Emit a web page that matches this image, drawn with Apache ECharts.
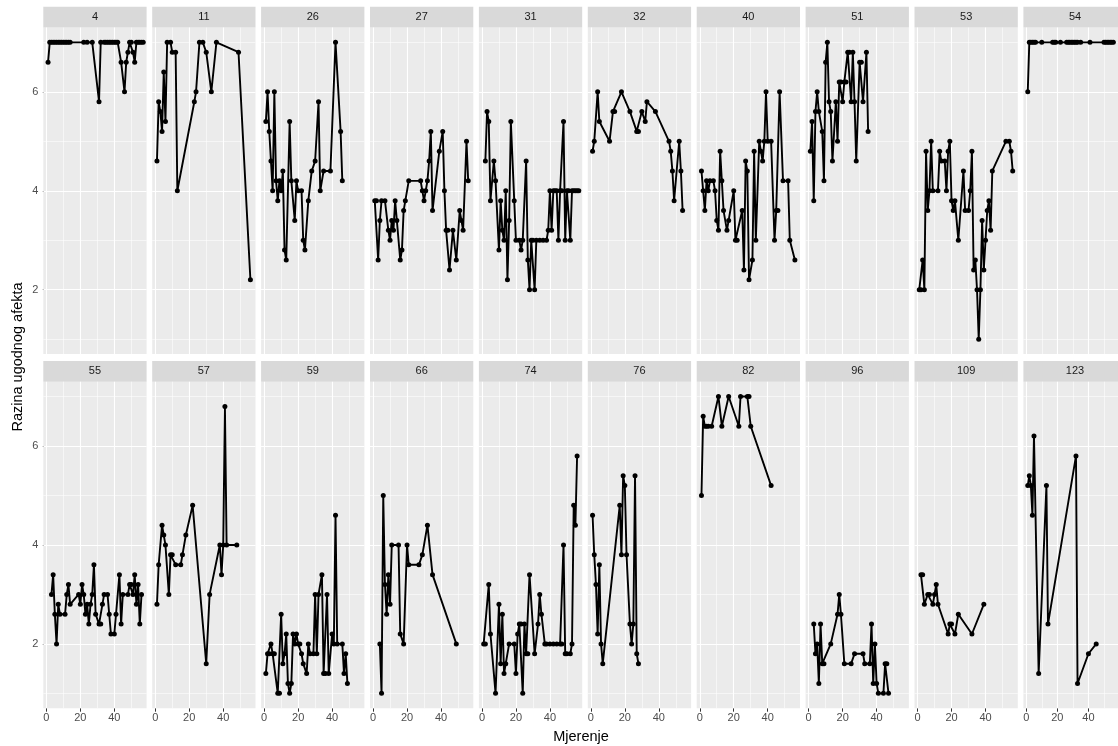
<!DOCTYPE html>
<html><head><meta charset="utf-8">
<script src="https://cdn.jsdelivr.net/npm/echarts@6/dist/echarts.min.js"></script>
<style>html,body{margin:0;padding:0;background:#fff}#c{width:1118px;height:746px}</style>
</head><body><div id="c"></div>
<script>
// ---------- data ----------
const panelIds = ['4','11','26','27','31','32','40','51','53','54','55','57','59','66','74','76','82','96','109','123'];
const xTickValues = [0, 20, 40];
const yTickValues = [2, 4, 6];
const xMinorValues = [10, 30, 50];
const yMinorValues = [1, 3, 5, 7];
const xTitle = 'Mjerenje';
const yTitle = 'Razina ugodnog afekta';

const p4 = [[1,6.6],[2,7],[3,7],[4,7],[5,7],[6,7],[7,7],[8,7],[9,7],[10,7],[11,7],[12,7],[13,7],[14,7],[22,7],[24,7],[27,7],[31,5.8],[32,7],[34,7],[35,7],[36,7],[37,7],[38,7],[39,7],[40,7],[41,7],[42,7],[44,6.6],[46,6.0],[47,6.6],[48,6.8],[49,7],[50,7],[51,6.8],[52,6.6],[53,7],[54,7],[55,7],[56,7],[57,7]];
const p11 = [[1,4.6],[2,5.8],[3,5.6],[4,5.2],[5,6.4],[6,5.4],[7,7],[9,7],[10,6.8],[12,6.8],[13,4.0],[23,5.8],[24,6.0],[26,7],[28,7],[30,6.8],[33,6.0],[36,7],[49,6.8],[56,2.2]];
const p26 = [[1,5.4],[2,6.0],[3,5.2],[4,4.6],[5,4.0],[6,6.0],[7,4.2],[8,3.8],[9,4.2],[10,4.0],[11,4.4],[12,2.8],[13,2.6],[15,5.4],[16,4.2],[18,3.4],[19,4.2],[20,4.0],[22,4.0],[23,3.0],[24,2.8],[26,3.8],[28,4.4],[30,4.6],[32,5.8],[33,4.0],[35,4.4],[39,4.4],[42,7.0],[45,5.2],[46,4.2]];
const p27 = [[1,3.8],[2,3.8],[3,2.6],[4,3.4],[5,3.8],[7,3.8],[9,3.2],[10,3.0],[11,3.4],[12,3.2],[13,3.8],[14,3.4],[16,2.6],[17,2.8],[18,3.6],[19,3.8],[21,4.2],[28,4.2],[29,4.0],[30,3.8],[31,4.0],[32,4.2],[33,4.6],[34,5.2],[35,3.6],[39,4.8],[41,5.2],[42,4.0],[43,3.2],[44,3.2],[45,2.4],[47,3.2],[49,2.6],[51,3.6],[52,3.4],[53,3.2],[55,5.0],[56,4.2]];
const p31 = [[2,4.6],[3,5.6],[4,5.4],[5,3.8],[7,4.6],[8,4.2],[10,2.8],[11,3.8],[12,3.2],[13,3.0],[14,4.0],[15,2.2],[16,3.4],[17,5.4],[19,3.8],[20,3.0],[22,3.0],[23,2.8],[24,3.0],[26,4.6],[27,2.6],[28,2.0],[29,3.0],[30,3.0],[31,2.0],[32,3.0],[34,3.0],[36,3.0],[38,3.0],[39,3.2],[40,4.0],[41,3.2],[42,4.0],[43,4.0],[44,4.0],[45,3.0],[46,4.0],[47,4.0],[48,5.4],[49,3.0],[50,4.0],[51,4.0],[52,3.0],[53,4.0],[54,4.0],[55,4.0],[56,4.0],[57,4.0]];
const p32 = [[1,4.8],[2,5.0],[4,6.0],[5,5.4],[11,5.0],[13,5.6],[14,5.6],[18,6.0],[23,5.6],[27,5.2],[28,5.2],[30,5.6],[32,5.4],[33,5.8],[38,5.6],[46,5.0],[47,4.8],[48,4.4],[49,3.8],[52,5.0],[53,4.4],[54,3.6]];
const p40 = [[1,4.4],[2,4.0],[3,3.6],[4,4.2],[5,4.0],[6,4.2],[8,4.2],[9,4.0],[10,3.4],[11,3.2],[12,4.8],[13,4.2],[14,3.6],[16,3.2],[17,3.4],[20,4.0],[21,3.0],[22,3.0],[25,3.6],[26,2.4],[27,4.6],[28,4.4],[29,2.2],[31,2.6],[32,4.8],[33,3.0],[35,5.0],[36,4.8],[37,4.6],[38,5.0],[39,6.0],[40,5.0],[42,5.0],[44,3.0],[45,3.6],[46,3.6],[47,6.0],[49,4.2],[52,4.2],[53,3.0],[56,2.6]];
const p51 = [[1,4.8],[2,5.4],[3,3.8],[4,5.6],[5,6.0],[6,5.6],[8,5.2],[9,4.2],[10,6.6],[11,7.0],[12,5.8],[13,5.6],[14,4.6],[16,5.8],[17,5.0],[18,6.2],[19,6.2],[20,5.8],[21,6.2],[22,6.2],[23,6.8],[24,6.8],[25,5.8],[26,6.8],[27,5.8],[28,4.6],[30,6.6],[31,6.6],[32,5.8],[34,6.8],[35,5.2]];
const p53 = [[1,2.0],[2,2.0],[3,2.6],[4,2.0],[5,4.8],[6,3.6],[7,4.0],[8,5.0],[9,4.0],[12,4.0],[13,4.8],[14,4.6],[16,4.6],[17,4.0],[18,4.8],[19,5.0],[20,3.8],[21,3.6],[22,3.8],[24,3.0],[27,4.4],[28,3.6],[30,3.6],[31,4.0],[32,4.8],[33,2.4],[34,2.6],[35,2.0],[36,1.0],[37,2.0],[38,3.4],[39,2.4],[40,3.0],[41,3.6],[42,3.8],[43,3.2],[44,4.4],[52,5.0],[54,5.0],[55,4.8],[56,4.4]];
const p54 = [[1,6.0],[2,7],[3,7],[4,7],[5,7],[6,7],[10,7],[17,7],[18,7],[19,7],[22,7],[26,7],[27,7],[28,7],[29,7],[30,7],[31,7],[32,7],[33,7],[35,7],[41,7],[50,7],[51,7],[52,7],[53,7],[54,7],[55,7],[56,7]];
const p55 = [[3,3.0],[4,3.4],[5,2.6],[6,2.0],[7,2.8],[8,2.6],[11,2.6],[12,3.0],[13,3.2],[14,2.8],[19,3.0],[20,2.8],[21,3.2],[22,3.0],[23,2.6],[24,2.8],[25,2.4],[26,2.8],[27,3.0],[28,3.6],[29,2.6],[31,2.4],[32,2.4],[33,2.8],[34,3.0],[36,3.0],[37,2.6],[38,2.2],[40,2.2],[41,2.6],[43,3.4],[44,2.4],[45,3.0],[48,3.0],[49,3.2],[50,3.2],[51,3.0],[52,3.4],[53,2.8],[54,3.2],[55,2.4],[56,3.0]];
const p57 = [[1,2.8],[2,3.6],[4,4.4],[5,4.2],[6,4.0],[8,3.0],[9,3.8],[10,3.8],[12,3.6],[15,3.6],[16,3.8],[18,4.2],[22,4.8],[30,1.6],[32,3.0],[38,4.0],[39,3.4],[40,4.0],[41,6.8],[42,4.0],[48,4.0]];
const p59 = [[1,1.4],[2,1.8],[3,1.8],[4,2.0],[5,1.8],[6,1.8],[8,1.0],[9,1.0],[10,2.6],[11,1.6],[12,1.8],[13,2.2],[14,1.2],[15,1.0],[16,1.2],[17,2.2],[18,2.0],[19,2.2],[20,2.0],[21,2.0],[22,1.8],[23,1.6],[25,1.4],[26,2.0],[27,1.8],[29,1.8],[30,3.0],[31,1.8],[32,3.0],[34,3.4],[35,1.4],[36,1.4],[37,3.0],[38,1.4],[40,2.2],[41,2.0],[42,4.6],[43,2.0],[46,2.0],[47,1.4],[48,1.8],[49,1.2]];
const p66 = [[4,2.0],[5,1.0],[6,5.0],[7,3.2],[8,2.6],[9,3.4],[10,2.8],[11,4.0],[15,4.0],[16,2.2],[18,2.0],[20,4.0],[21,3.6],[27,3.6],[29,3.8],[32,4.4],[35,3.4],[49,2.0]];
const p74 = [[1,2.0],[2,2.0],[4,3.2],[5,2.2],[8,1.0],[10,2.8],[11,1.6],[12,2.6],[13,1.4],[14,1.6],[16,2.0],[19,2.0],[20,1.4],[21,2.2],[22,2.4],[23,2.4],[24,1.0],[25,2.4],[26,1.8],[27,1.8],[28,3.4],[31,1.8],[33,2.4],[34,3.0],[35,2.6],[37,2.0],[38,2.0],[40,2.0],[42,2.0],[44,2.0],[46,2.0],[47,2.0],[48,4.0],[49,1.8],[50,1.8],[52,1.8],[53,2.0],[54,4.8],[55,4.4],[56,5.8]];
const p76 = [[1,4.6],[2,3.8],[3,3.2],[4,2.2],[5,3.6],[6,2.0],[7,1.6],[17,4.8],[18,3.8],[19,5.4],[20,5.2],[21,3.8],[23,2.4],[24,2.0],[25,2.4],[26,5.4],[27,1.8],[28,1.6]];
const p82 = [[1,5.0],[2,6.6],[3,6.4],[4,6.4],[5,6.4],[7,6.4],[11,7.0],[13,6.4],[17,7.0],[23,6.4],[24,7.0],[28,7.0],[29,7.0],[30,6.4],[42,5.2]];
const p96 = [[3,2.4],[4,1.8],[5,2.0],[6,1.2],[7,2.4],[8,1.6],[9,1.6],[13,2.0],[17,2.6],[18,3.0],[19,2.6],[21,1.6],[25,1.6],[27,1.8],[32,1.8],[33,1.6],[36,1.6],[37,2.4],[38,1.2],[39,2.0],[40,1.2],[41,1.0],[44,1.0],[45,1.6],[46,1.6],[47,1.0]];
const p109 = [[2,3.4],[3,3.4],[4,2.8],[6,3.0],[7,3.0],[9,2.8],[10,3.0],[11,3.2],[12,2.8],[18,2.2],[19,2.4],[20,2.4],[22,2.2],[24,2.6],[32,2.2],[39,2.8]];
const p123 = [[1,5.2],[2,5.4],[3,5.2],[4,4.6],[5,6.2],[8,1.4],[13,5.2],[14,2.4],[32,5.8],[33,1.2],[40,1.8],[45,2.0]];

const panelData = [p4,p11,p26,p27,p31,p32,p40,p51,p53,p54,p55,p57,p59,p66,p74,p76,p82,p96,p109,p123];

// ---------- layout / style ----------
const FONT = '"Liberation Sans", Arial, Helvetica, sans-serif';
const L0 = 43.3, STEP = 108.9, PW = 103.3, PH = 326.5, TOPS = [27.5, 381.7], STRIP = 20.8;

const grids = [], xAxes = [], yAxes = [], series = [], graphics = [];
panelIds.forEach((id, i) => {
  const row = Math.floor(i / 10), col = i % 10;
  const left = L0 + col * STEP, top = TOPS[row];
  grids.push({left, top, width: PW, height: PH, show: true, backgroundColor: '#EBEBEB', borderWidth: 0, containLabel: false, z: 0});
  xAxes.push({
    type: 'value', gridIndex: i, min: -1.8, max: 59,
    axisLine: {show: false}, splitLine: {show: false},
    axisTick: {show: row === 1, customValues: xTickValues, length: 3.5, lineStyle: {color: '#333333', width: 1}},
    axisLabel: {show: row === 1, customValues: xTickValues, margin: 4, fontSize: 11, color: '#4D4D4D', fontFamily: FONT}
  });
  yAxes.push({
    type: 'value', gridIndex: i, min: 0.7, max: 7.3,
    axisLine: {show: false}, splitLine: {show: false},
    axisTick: {show: col === 0, customValues: yTickValues, length: 3.5, lineStyle: {color: '#333333', width: 1}},
    axisLabel: {show: col === 0, customValues: yTickValues, margin: 5, fontSize: 11, color: '#4D4D4D', fontFamily: FONT}
  });
  const ml = [];
  yMinorValues.forEach(v => ml.push({yAxis: v, lineStyle: {width: 0.55}}));
  xMinorValues.forEach(v => ml.push({xAxis: v, lineStyle: {width: 0.55}}));
  yTickValues.forEach(v => ml.push({yAxis: v, lineStyle: {width: 1.1}}));
  xTickValues.forEach(v => ml.push({xAxis: v, lineStyle: {width: 1.1}}));
  series.push({
    type: 'line', xAxisIndex: i, yAxisIndex: i, z: 1, silent: true,
    data: [[0, 0.7]], showSymbol: false, lineStyle: {width: 0, opacity: 0},
    markLine: {silent: true, z: 1, symbol: 'none', animation: false, label: {show: false},
      lineStyle: {color: '#FFFFFF', type: 'solid'}, emphasis: {disabled: true}, data: ml}
  });
  series.push({
    type: 'line', xAxisIndex: i, yAxisIndex: i, z: 6, data: panelData[i],
    symbol: 'circle', symbolSize: 5, showSymbol: true,
    lineStyle: {color: '#000000', width: 1.9}, itemStyle: {color: '#000000'},
    emphasis: {disabled: true}
  });
  graphics.push({type: 'rect', silent: true, shape: {x: left, y: top - STRIP, width: PW, height: STRIP}, style: {fill: '#D9D9D9'}});
  graphics.push({type: 'text', silent: true, x: left + PW / 2, y: top - STRIP / 2,
    style: {text: id, fill: '#1A1A1A', fontSize: 11, fontFamily: FONT, align: 'center', verticalAlign: 'middle'}});
});
graphics.push({type: 'text', silent: true, x: 581, y: 737,
  style: {text: xTitle, fill: '#000000', fontSize: 14.5, fontFamily: FONT, align: 'center', verticalAlign: 'middle'}});
graphics.push({type: 'text', silent: true, x: 18, y: 357, rotation: Math.PI / 2,
  style: {text: yTitle, fill: '#000000', fontSize: 14.5, fontFamily: FONT, align: 'center', verticalAlign: 'middle'}});

const chart = echarts.init(document.getElementById('c'), null, {renderer: 'canvas'});
chart.setOption({
  animation: false,
  backgroundColor: '#FFFFFF',
  grid: grids, xAxis: xAxes, yAxis: yAxes, series: series, graphic: graphics
});
</script>
</body></html>
